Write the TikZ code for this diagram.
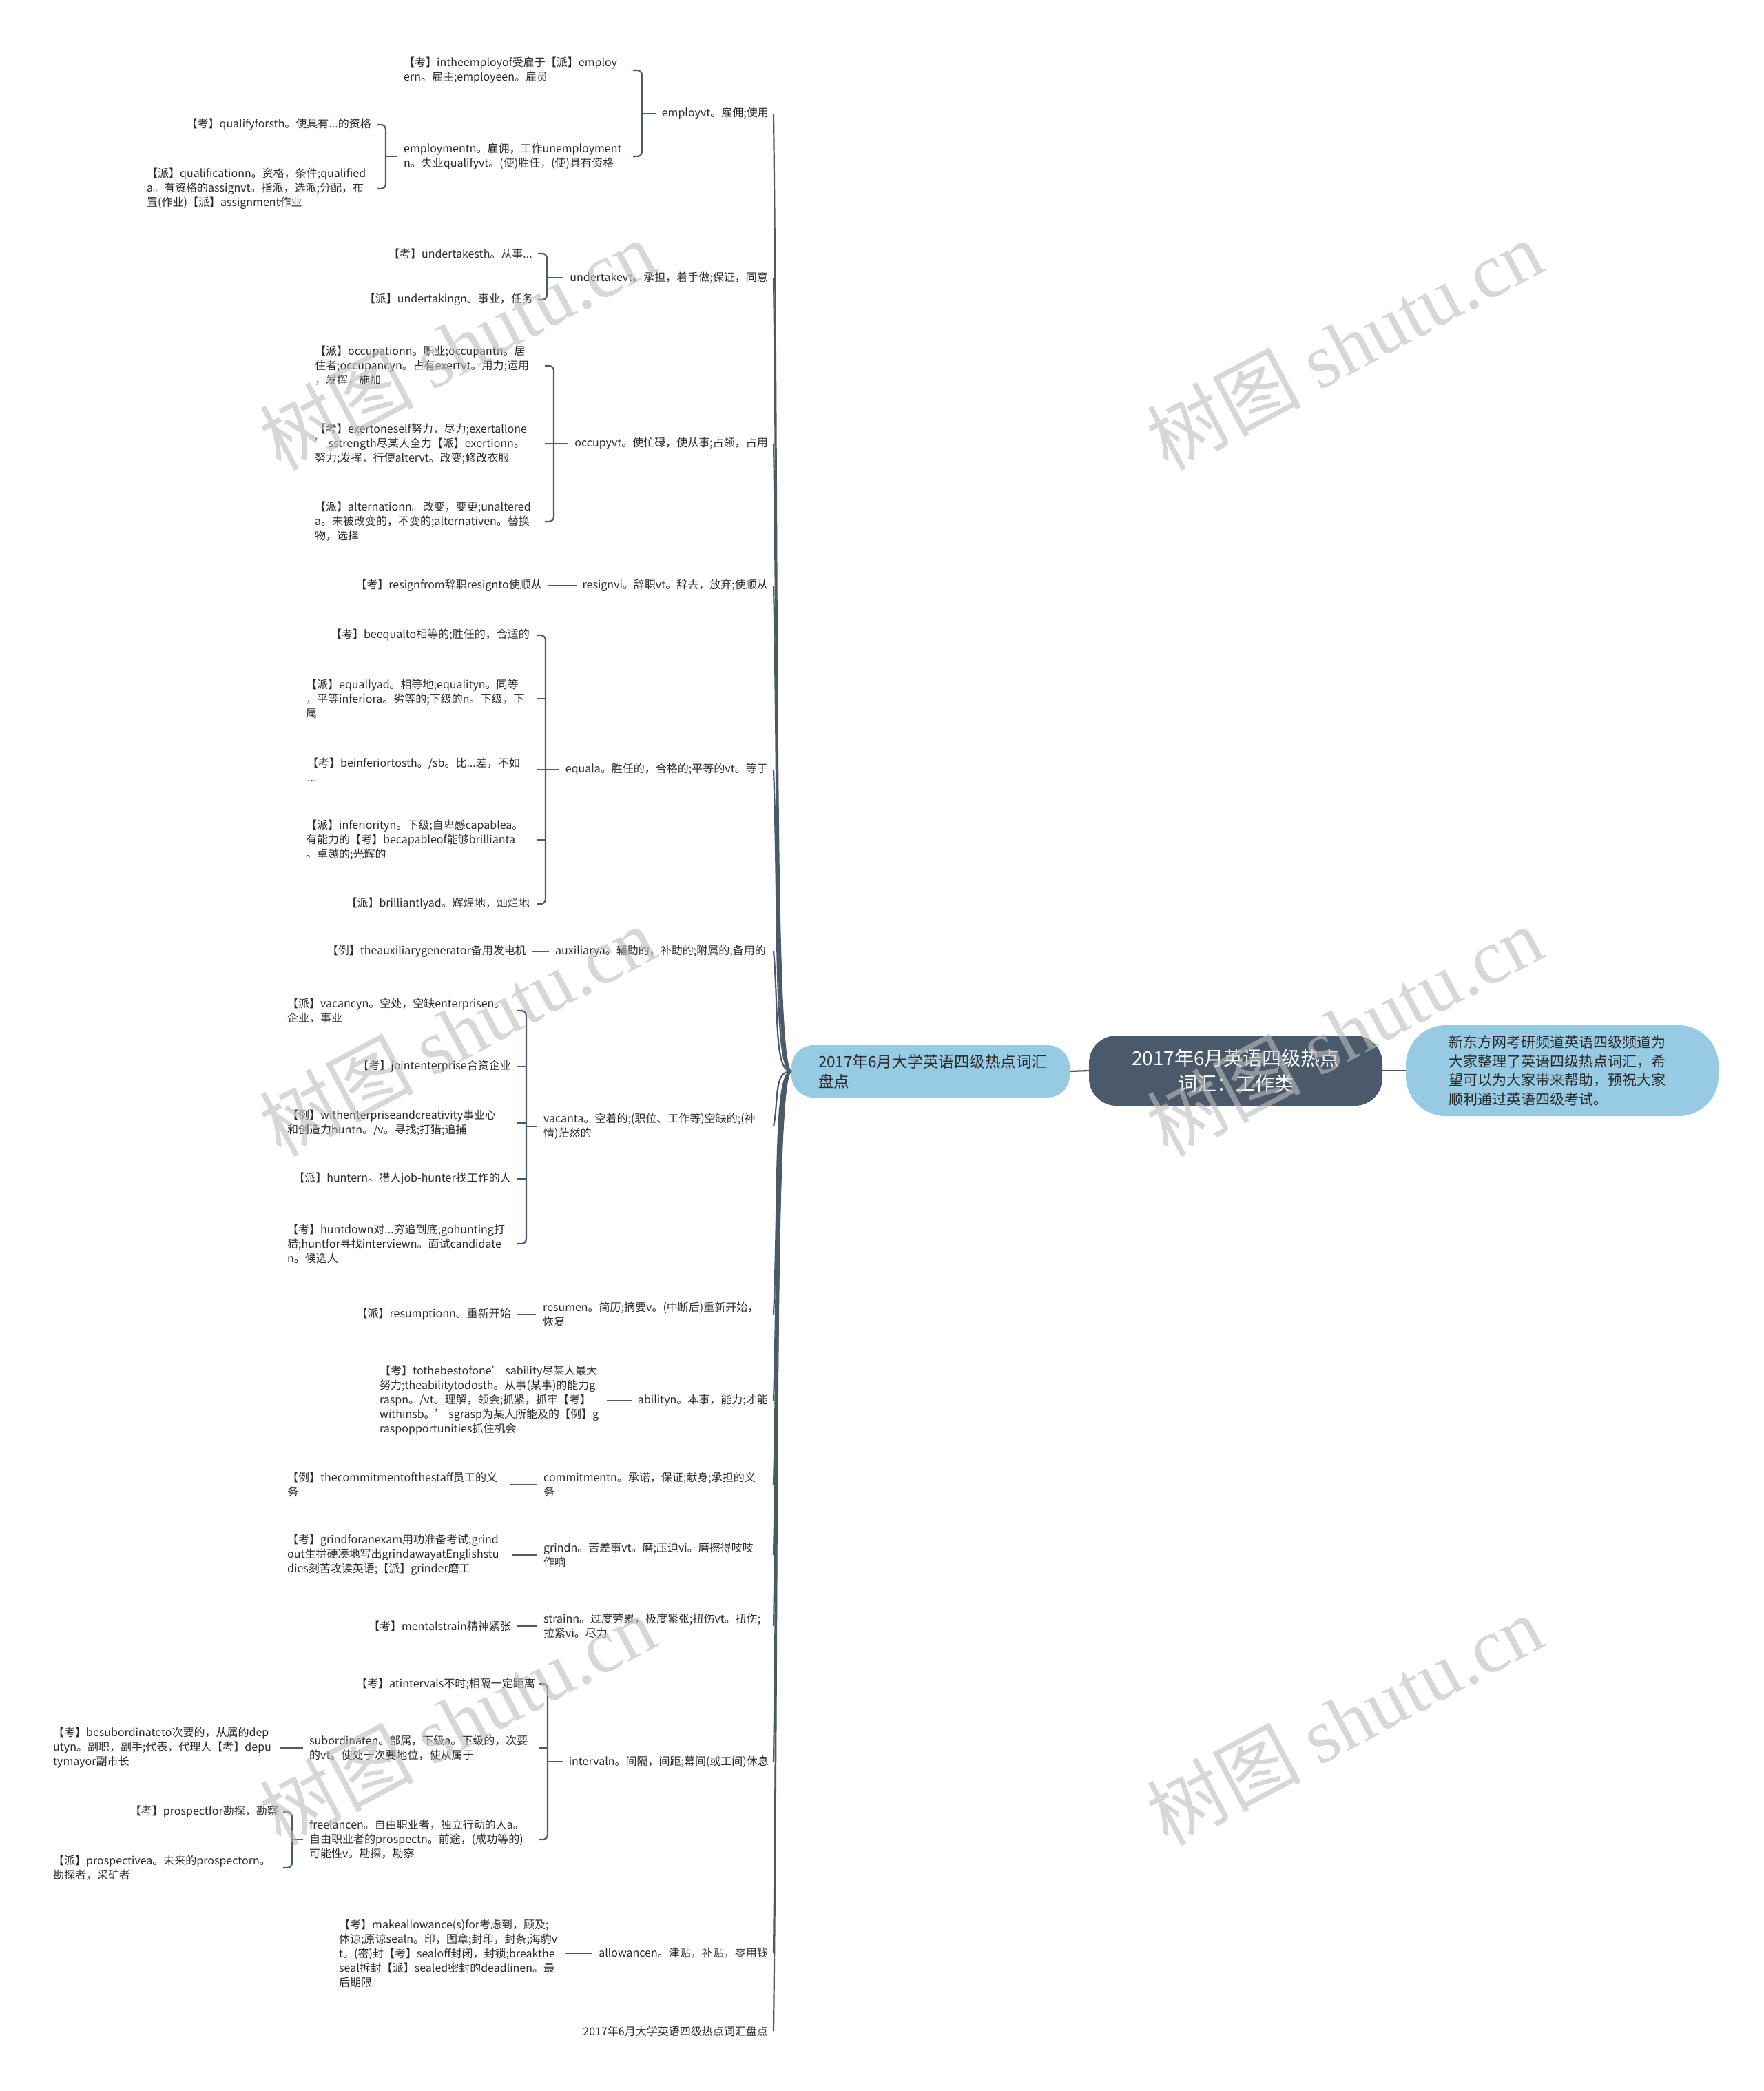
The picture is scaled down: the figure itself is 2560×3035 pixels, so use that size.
\documentclass[tikz,border=0pt]{standalone}
\usepackage{fontspec}
\setmainfont{Noto Sans CJK SC}
\newfontfamily\wmserif{Liberation Serif}
\usetikzlibrary{calc}
\definecolor{slate}{HTML}{4A5A6A}
\definecolor{sky}{HTML}{96CBE3}
\definecolor{txt}{HTML}{2B2B2B}
\definecolor{wmc}{HTML}{BDBDBD}
\newcommand\trunkline[2]{\draw[ln] (L.west) .. controls ($(L.west)+(-26,0)$) and ($(#1.east -| tx)+(8,#2)$) .. (#1.east -| tx);}
\begin{document}
\begin{tikzpicture}[x=1pt,y=-1pt,
  t/.style={inner sep=0pt, font=\fontsize{16}{21}\selectfont, text=txt, align=left},
  ln/.style={draw=slate, line width=2.2pt},
  br/.style={ln, rounded corners=7pt},
  wm/.style={text=wmc, opacity=0.6, rotate=28, font=\fontsize{112}{116}\selectfont, inner sep=0pt}]
\useasboundingbox[fill=white] (0,0) rectangle (2560,3035);

% main nodes
\node[fill=sky, rounded corners=32pt, minimum width=404pt, minimum height=76pt, inner sep=0pt, text width=326pt, align=left, font=\fontsize{22.5}{29}\selectfont, text=txt] (L) at (1351,1555) {2017年6月大学英语四级热点词汇\\盘点};
\node[fill=slate, rounded corners=40pt, minimum width=426pt, minimum height=102pt, inner sep=0pt, align=center, font=\fontsize{28}{37}\selectfont, text=white] (R) at (1794,1554) {2017年6月英语四级热点\\词汇：工作类};
\node[fill=sky, rounded corners=58pt, minimum width=454pt, minimum height=132pt, inner sep=0pt, text width=330pt, align=left, font=\fontsize{21}{27.5}\selectfont, text=txt] (Q) at (2268,1554) {新东方网考研频道英语四级频道为\\大家整理了英语四级热点词汇，希\\望可以为大家带来帮助，预祝大家\\顺利通过英语四级考试。};
\draw[ln] (L.east) -- (R.west);
\draw[ln] (R.east) -- (Q.west);

% level 2
\node[t, anchor=east] (e1) at (1116,165) {employvt。雇佣;使用};
\node[t, anchor=east] (e2) at (1115,403) {undertakevt。承担，着手做;保证，同意};
\node[t, anchor=east] (e3) at (1115,644) {occupyvt。使忙碌，使从事;占领，占用};
\node[t, anchor=east] (e4) at (1115,850) {resignvi。辞职vt。辞去，放弃;使顺从};
\node[t, anchor=east] (e5) at (1115,1117) {equala。胜任的，合格的;平等的vt。等于};
\node[t, anchor=east] (e6) at (1112,1381) {auxiliarya。辅助的，补助的;附属的;备用的};
\node[t, anchor=west] (e7) at (789,1635) {vacanta。空着的;(职位、工作等)空缺的;(神\\情)茫然的};
\node[t, anchor=west] (e8) at (788,1908) {resumen。简历;摘要v。(中断后)重新开始，\\恢复};
\node[t, anchor=east] (e9) at (1115,2033) {abilityn。本事，能力;才能};
\node[t, anchor=west] (e10) at (789,2155) {commitmentn。承诺，保证;献身;承担的义\\务};
\node[t, anchor=west] (e11) at (789,2257) {grindn。苦差事vt。磨;压迫vi。磨擦得吱吱\\作响};
\node[t, anchor=west] (e12) at (789,2360) {strainn。过度劳累，极度紧张;扭伤vt。扭伤;\\拉紧vi。尽力};
\node[t, anchor=east] (e13) at (1116,2557) {intervaln。间隔，间距;幕间(或工间)休息};
\node[t, anchor=east] (e14) at (1115,2835) {allowancen。津贴，补贴，零用钱};
\node[t, anchor=east] (e15) at (1115,2948) {2017年6月大学英语四级热点词汇盘点};

% trunk
\coordinate (tx) at (1123,0);
\trunkline{e1}{694}
\trunkline{e2}{575}
\trunkline{e3}{455}
\trunkline{e4}{352}
\trunkline{e5}{219}
\trunkline{e6}{87}
\trunkline{e7}{-41}
\trunkline{e8}{-177}
\trunkline{e9}{-240}
\trunkline{e10}{-301}
\trunkline{e11}{-352}
\trunkline{e12}{-403}
\trunkline{e13}{-502}
\trunkline{e14}{-641}
\trunkline{e15}{-697}

% employ group
\node[t, anchor=west] (a1) at (586,102) {【考】intheemployof受雇于【派】employ\\ern。雇主;employeen。雇员};
\node[t, anchor=west] (a2) at (586,227) {employmentn。雇佣，工作unemployment\\n。失业qualifyvt。(使)胜任，(使)具有资格};
\node[t, anchor=east] (a21) at (539,181) {【考】qualifyforsth。使具有...的资格};
\node[t, anchor=west] (a22) at (213,274) {【派】qualificationn。资格，条件;qualified\\a。有资格的assignvt。指派，选派;分配，布\\置(作业)【派】assignment作业};
\coordinate (bk1) at (932,165); \coordinate (hk1) at (919,165);
\draw[br] (a1.east -| hk1) -| (bk1);
\draw[br] (a2.east -| hk1) -| (bk1);
\draw[ln] (bk1) -- ([xshift=-9pt]e1.west);
\coordinate (bk2) at (560,227); \coordinate (hk2) at (547,227);
\draw[br] (a21.east -| hk2) -| (bk2);
\draw[br] (a22.east -| hk2) -| (bk2);
\draw[ln] (bk2) -- ([xshift=-9pt]a2.west);

% undertake group
\node[t, anchor=east] (b1) at (773,368) {【考】undertakesth。从事...};
\node[t, anchor=east] (b2) at (774,435) {【派】undertakingn。事业，任务};
\coordinate (bk3) at (794,403); \coordinate (hk3) at (781,403);
\draw[br] (b1.east -| hk3) -| (bk3);
\draw[br] (b2.east -| hk3) -| (bk3);
\draw[ln] (bk3) -- ([xshift=-9pt]e2.west);

% occupy group
\node[t, anchor=west] (c1) at (457,531) {【派】occupationn。职业;occupantn。居\\住者;occupancyn。占有exertvt。用力;运用\\，发挥，施加};
\node[t, anchor=west] (c2) at (457,644) {【考】exertoneself努力，尽力;exertallone\\’ sstrength尽某人全力【派】exertionn。\\努力;发挥，行使altervt。改变;修改衣服};
\node[t, anchor=west] (c3) at (457,757) {【派】alternationn。改变，变更;unaltered\\a。未被改变的，不变的;alternativen。替换\\物，选择};
\coordinate (bk4) at (804,644); \coordinate (hk4) at (791,644);
\draw[br] (c1.east -| hk4) -| (bk4);
\draw[br] (c3.east -| hk4) -| (bk4);
\draw[ln] (c2.east -| hk4) -- (c2.east -| bk4);
\draw[ln] (bk4) -- ([xshift=-9pt]e3.west);

% resign
\node[t, anchor=east] (d1) at (787,850) {【考】resignfrom辞职resignto使顺从};
\draw[ln] ([xshift=8pt]d1.east) -- ([xshift=-8pt]e4.west);

% equal group
\node[t, anchor=east] (f1) at (769,922) {【考】beequalto相等的;胜任的，合适的};
\node[t, anchor=west] (f2) at (444,1014) {【派】equallyad。相等地;equalityn。同等\\，平等inferiora。劣等的;下级的n。下级，下\\属};
\node[t, anchor=west] (f3) at (446,1117) {【考】beinferiortosth。/sb。比...差，不如\\...};
\node[t, anchor=west] (f4) at (444,1219) {【派】inferiorityn。下级;自卑感capablea。\\有能力的【考】becapableof能够brillianta\\。卓越的;光辉的};
\node[t, anchor=east] (f5) at (769,1312) {【派】brilliantlyad。辉煌地，灿烂地};
\coordinate (bk5) at (792,1117); \coordinate (hk5) at (779,1117);
\draw[br] (f1.east -| hk5) -| (bk5);
\draw[br] (f5.east -| hk5) -| (bk5);
\draw[ln] (f2.east -| hk5) -- (f2.east -| bk5);
\draw[ln] (f3.east -| hk5) -- (f3.east -| bk5);
\draw[ln] (f4.east -| hk5) -- (f4.east -| bk5);
\draw[ln] (bk5) -- ([xshift=-9pt]e5.west);

% auxiliary
\node[t, anchor=east] (g1) at (764,1381) {【例】theauxiliarygenerator备用发电机};
\draw[ln] ([xshift=8pt]g1.east) -- ([xshift=-9pt]e6.west);

% vacant group
\node[t, anchor=west] (h1) at (417,1467) {【派】vacancyn。空处，空缺enterprisen。\\企业，事业};
\node[t, anchor=east] (h2) at (742,1548) {【考】jointenterprise合资企业};
\node[t, anchor=west] (h3) at (417,1630) {【例】withenterpriseandcreativity事业心\\和创造力huntn。/v。寻找;打猎;追捕};
\node[t, anchor=east] (h4) at (742,1711) {【派】huntern。猎人job-hunter找工作的人};
\node[t, anchor=west] (h5) at (417,1805) {【考】huntdown对...穷追到底;gohunting打\\猎;huntfor寻找interviewn。面试candidate\\n。候选人};
\coordinate (bk6) at (764,1635); \coordinate (hk6) at (751,1635);
\draw[br] (h1.east -| hk6) -| (bk6);
\draw[br] (h5.east -| hk6) -| (bk6);
\draw[ln] (h2.east -| hk6) -- (h2.east -| bk6);
\draw[ln] (h3.east -| hk6) -- (h3.east -| bk6);
\draw[ln] (h4.east -| hk6) -- (h4.east -| bk6);
\draw[ln] (bk6) -- ([xshift=-9pt]e7.west);

% resume
\node[t, anchor=east] (i1) at (742,1908) {【派】resumptionn。重新开始};
\draw[ln] ([xshift=8pt]i1.east) -- ([xshift=-10pt]e8.west);

% ability
\node[t, anchor=west] (j1) at (551,2033) {【考】tothebestofone’ sability尽某人最大\\努力;theabilitytodosth。从事(某事)的能力g\\raspn。/vt。理解，领会;抓紧，抓牢【考】\\withinsb。’ sgrasp为某人所能及的【例】g\\raspopportunities抓住机会};
\draw[ln] ([xshift=12pt]j1.east) -- ([xshift=-8pt]e9.west);

% commitment, grind, strain
\node[t, anchor=west] (k1) at (417,2155) {【例】thecommitmentofthestaff员工的义\\务};
\draw[ln] ([xshift=18pt]k1.east) -- ([xshift=-9pt]e10.west);
\node[t, anchor=west] (l1) at (417,2257) {【考】grindforanexam用功准备考试;grind\\out生拼硬凑地写出grindawayatEnglishstu\\dies刻苦攻读英语;【派】grinder磨工};
\draw[ln] ([xshift=18pt]l1.east) -- ([xshift=-9pt]e11.west);
\node[t, anchor=east] (m1) at (742,2360) {【考】mentalstrain精神紧张};
\draw[ln] ([xshift=8pt]m1.east) -- ([xshift=-9pt]e12.west);

% interval group
\node[t, anchor=east] (n1) at (777,2444) {【考】atintervals不时;相隔一定距离};
\node[t, anchor=west] (n2) at (449,2537) {subordinaten。部属，下级a。下级的，次要\\的vt。使处于次要地位，使从属于};
\node[t, anchor=west] (n3) at (449,2670) {freelancen。自由职业者，独立行动的人a。\\自由职业者的prospectn。前途，(成功等的)\\可能性v。勘探，勘察};
\coordinate (bk7) at (795,2557); \coordinate (hk7) at (782,2557);
\draw[br] (n1.east -| hk7) -| (bk7);
\draw[br] (n3.east -| hk7) -| (bk7);
\draw[ln] (n2.east -| hk7) -- (n2.east -| bk7);
\draw[ln] (bk7) -- ([xshift=-9pt]e13.west);
\node[t, anchor=west] (n21) at (77,2537) {【考】besubordinateto次要的，从属的dep\\utyn。副职，副手;代表，代理人【考】depu\\tymayor副市长};
\draw[ln] ([xshift=12pt]n21.east) -- ([xshift=-9pt]n2.west);
\node[t, anchor=east] (n31) at (404,2630) {【考】prospectfor勘探，勘察};
\node[t, anchor=west] (n32) at (77,2711) {【派】prospectivea。未来的prospectorn。\\勘探者，采矿者};
\coordinate (bk8) at (424,2670); \coordinate (hk8) at (411,2670);
\draw[br] (n31.east -| hk8) -| (bk8);
\draw[br] (n32.east -| hk8) -| (bk8);
\draw[ln] (bk8) -- ([xshift=-9pt]n3.west);

% allowance
\node[t, anchor=west] (o1) at (492,2835) {【考】makeallowance(s)for考虑到，顾及;\\体谅;原谅sealn。印，图章;封印，封条;海豹v\\t。(密)封【考】sealoff封闭，封锁;breakthe\\seal拆封【派】sealed密封的deadlinen。最\\后期限};
\draw[ln] ([xshift=12pt]o1.east) -- ([xshift=-9pt]e14.west);

% watermarks
\node[wm] (w1) at (664,500) {树图 {\wmserif shutu.cn}};
\node[wm] (w2) at (1952,500) {树图 {\wmserif shutu.cn}};
\node[wm] (w3) at (664,1496) {树图 {\wmserif shutu.cn}};
\node[wm] (w4) at (1952,1496) {树图 {\wmserif shutu.cn}};
\node[wm] (w5) at (664,2496) {树图 {\wmserif shutu.cn}};
\node[wm] (w6) at (1952,2496) {树图 {\wmserif shutu.cn}};
\end{tikzpicture}
\end{document}
